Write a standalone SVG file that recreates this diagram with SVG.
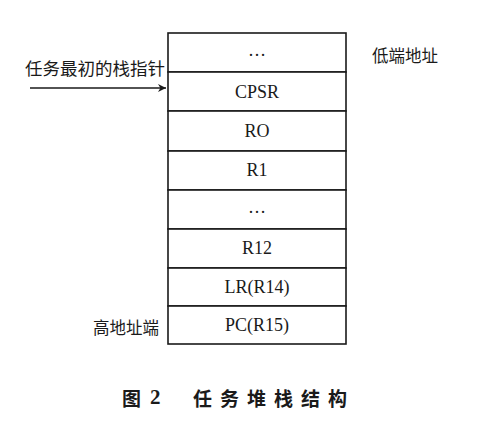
<svg xmlns="http://www.w3.org/2000/svg" width="500" height="423" viewBox="0 0 500 423">
<defs>
<style>
.cell{fill:#fff;stroke:#1a1a1a;stroke-width:1.6}
.t{font-family:"Liberation Serif",serif;font-size:18px;fill:#1a1a1a;text-anchor:middle;dominant-baseline:central}
.cn{font-family:"Noto Sans CJK SC",sans-serif;font-size:16.5px;fill:#1a1a1a;dominant-baseline:central}
.cap{font-family:"Noto Sans CJK SC",sans-serif;font-size:19px;font-weight:bold;fill:#1a1a1a;dominant-baseline:central}
</style>
<marker id="ah" viewBox="0 0 10 10" refX="10" refY="5" markerWidth="8" markerHeight="8" markerUnits="userSpaceOnUse" orient="auto"><path d="M0,0 L10,5 L0,10 L3,5 z" fill="#1a1a1a"/></marker>
</defs>
<rect width="500" height="423" fill="#fff"/>
<g id="stack">
<g id="n0"><rect class="cell" x="168" y="33" width="178" height="39"/><text class="t" x="257" y="50">…</text></g>
<g id="n1"><rect class="cell" x="168" y="72" width="178" height="39"/><text class="t" x="257" y="92">CPSR</text></g>
<g id="n2"><rect class="cell" x="168" y="111" width="178" height="40"/><text class="t" x="257" y="131">RO</text></g>
<g id="n3"><rect class="cell" x="168" y="151" width="178" height="39"/><text class="t" x="257" y="170">R1</text></g>
<g id="n4"><rect class="cell" x="168" y="190" width="178" height="39"/><text class="t" x="257" y="207">…</text></g>
<g id="n5"><rect class="cell" x="168" y="229" width="178" height="39"/><text class="t" x="257" y="248">R12</text></g>
<g id="n6"><rect class="cell" x="168" y="268" width="178" height="38"/><text class="t" x="257" y="287">LR(R14)</text></g>
<g id="n7"><rect class="cell" x="168" y="306" width="178" height="38"/><text class="t" x="257" y="325">PC(R15)</text></g>
</g>
<g id="labels">
<text class="cn" x="25" y="67" style="font-size:17.5px">任务最初的栈指针</text>
<text class="cn" x="372" y="55">低端地址</text>
<text class="cn" x="93" y="327">高地址端</text>
</g>
<g id="connectors">
<line x1="30" y1="88" x2="166" y2="88" stroke="#1a1a1a" stroke-width="1.5" marker-end="url(#ah)"/>
</g>
<g id="caption">
<text class="cap" x="122" y="397">图</text>
<text class="cap" x="150" y="397" style="font-family:'Liberation Serif',serif;font-size:21px">2</text>
<text class="cap" x="193" y="397" letter-spacing="8">任务堆栈结构</text>
</g>
</svg>
